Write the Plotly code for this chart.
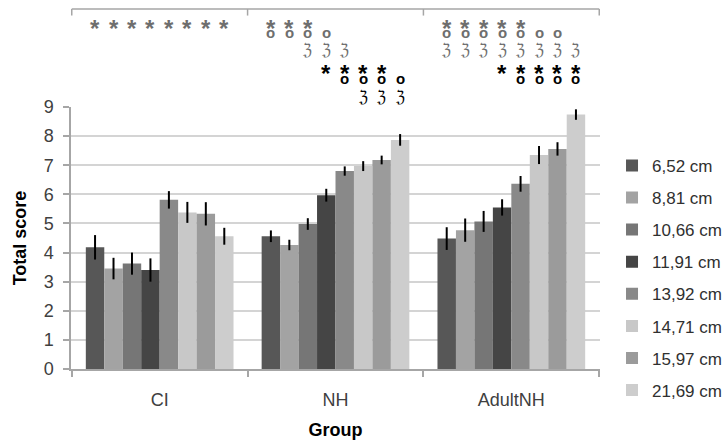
import plotly.graph_objects as go

# Groups and stimulus distances
groups = ["CI", "NH", "AdultNH"]
distances = ["6,52 cm", "8,81 cm", "10,66 cm", "11,91 cm",
             "13,92 cm", "14,71 cm", "15,97 cm", "21,69 cm"]
bar_colors = ["#575757", "#a3a3a3", "#767676", "#454545",
              "#898989", "#c8c8c8", "#9b9b9b", "#cdcdcd"]

# Mean total score per distance, one list per distance: [CI, NH, AdultNH]
score_652 = [4.18, 4.56, 4.48]
score_881 = [3.45, 4.26, 4.77]
score_1066 = [3.62, 4.98, 5.07]
score_1191 = [3.40, 5.97, 5.55]
score_1392 = [5.81, 6.80, 6.36]
score_1471 = [5.38, 6.97, 7.35]
score_1597 = [5.33, 7.18, 7.56]
score_2169 = [4.56, 7.87, 8.74]

# Error bar half-widths
err_652 = [0.42, 0.20, 0.39]
err_881 = [0.37, 0.18, 0.40]
err_1066 = [0.38, 0.20, 0.36]
err_1191 = [0.40, 0.22, 0.28]
err_1392 = [0.30, 0.16, 0.27]
err_1471 = [0.36, 0.17, 0.31]
err_1597 = [0.40, 0.15, 0.23]
err_2169 = [0.29, 0.20, 0.18]

scores = [score_652, score_881, score_1066, score_1191,
          score_1392, score_1471, score_1597, score_2169]
errors = [err_652, err_881, err_1066, err_1191,
          err_1392, err_1471, err_1597, err_2169]

# Significance markers: (symbol, colour, row, {group index: distance indices})
sig_rows = [
    ("*", "#6e6e6e", 0, {0: [0, 1, 2, 3, 4, 5, 6, 7], 1: [0, 1, 2], 2: [0, 1, 2, 3, 4]}),
    ("o", "#6e6e6e", 1, {1: [0, 1, 2, 3], 2: [0, 1, 2, 3, 4, 5, 6]}),
    ("ℨ", "#6e6e6e", 2, {1: [2, 3, 4], 2: [0, 1, 2, 3, 4, 5, 6, 7]}),
    ("*", "#000000", 3, {1: [3, 4, 5, 6], 2: [3, 4, 5, 6, 7]}),
    ("o", "#000000", 4, {1: [4, 5, 6, 7], 2: [4, 5, 6, 7]}),
    ("ℨ", "#000000", 5, {1: [5, 6, 7]}),
]
row_y = [1.322, 1.282, 1.218, 1.150, 1.105, 1.040]

BARGAP = 0.16
n = len(distances)
slot = (1 - BARGAP) / n

fig = go.Figure()
for i, name in enumerate(distances):
    fig.add_trace(go.Bar(
        x=groups, y=scores[i], name=name, legendgroup=name,
        marker=dict(color=bar_colors[i], line=dict(width=0)),
        error_y=dict(type="data", array=errors[i], color="#000000",
                     thickness=2, width=0),
    ))

annotations = []
for sym, col, row, spec in sig_rows:
    for g, idxs in spec.items():
        for i in idxs:
            xc = g - (1 - BARGAP) / 2 + slot * (i + 0.5)
            if sym == "*":
                font = dict(family="Liberation Sans", size=24, color=col)
                text, shift = "<b>*</b>", -6
            elif sym == "o":
                font = dict(family="Liberation Sans", size=15, color=col)
                text, shift = "<b>o</b>", 1
            else:
                font = dict(family="DejaVu Sans Condensed", size=16, color=col)
                text, shift = sym, 0
            annotations.append(dict(
                x=xc, y=row_y[row], xref="x", yref="paper", text=text,
                showarrow=False, font=font, yshift=shift,
                xanchor="center", yanchor="middle",
            ))

# Bracket across the top of the significance panel
top_y = 1.374
shapes = [dict(type="line", xref="x", yref="paper", x0=-0.5, x1=2.5,
               y0=top_y, y1=top_y, line=dict(color="#a6a6a6", width=1.5))]
for b in [-0.5, 0.5, 1.5, 2.5]:
    shapes.append(dict(type="line", xref="x", yref="paper", x0=b, x1=b,
                       y0=top_y, y1=top_y - 0.025,
                       line=dict(color="#a6a6a6", width=1.5)))

fig.update_layout(
    width=723, height=448,
    margin=dict(l=71, r=123, t=107, b=79),
    paper_bgcolor="white", plot_bgcolor="white",
    font=dict(family="Liberation Sans", size=18, color="#404040"),
    barmode="group", bargap=BARGAP, bargroupgap=0,
    showlegend=True,
    legend=dict(xref="container", yref="container", x=0.8465, y=0.670,
                xanchor="left", yanchor="top",
                font=dict(size=17, color="#303030"), tracegroupgap=7,
                itemwidth=30, maxheight=400, bgcolor="rgba(0,0,0,0)"),
    annotations=annotations, shapes=shapes,
)

fig.update_yaxes(
    range=[0, 9], dtick=1, showgrid=True, gridcolor="#d4d4d4", gridwidth=1.5,
    showline=True, linecolor="#a6a6a6", linewidth=1.5,
    ticks="outside", ticklen=6, tickcolor="#a6a6a6", tickwidth=1.5,
    ticklabelstandoff=6,
    tickfont=dict(size=18, color="#404040"), zeroline=False,
    title=dict(text="<b>Total score</b>", font=dict(size=18, color="#000000"), standoff=12),
)
fig.update_xaxes(
    showline=True, linecolor="#a6a6a6", linewidth=1.5,
    ticks="outside", tickson="boundaries", ticklen=6, tickcolor="#a6a6a6", tickwidth=1.5,
    ticklabelstandoff=14,
    tickfont=dict(size=18, color="#404040"), showgrid=False,
    title=dict(text="<b>Group</b>", font=dict(size=18, color="#000000"), standoff=14),
)

fig.write_html("out.html")
